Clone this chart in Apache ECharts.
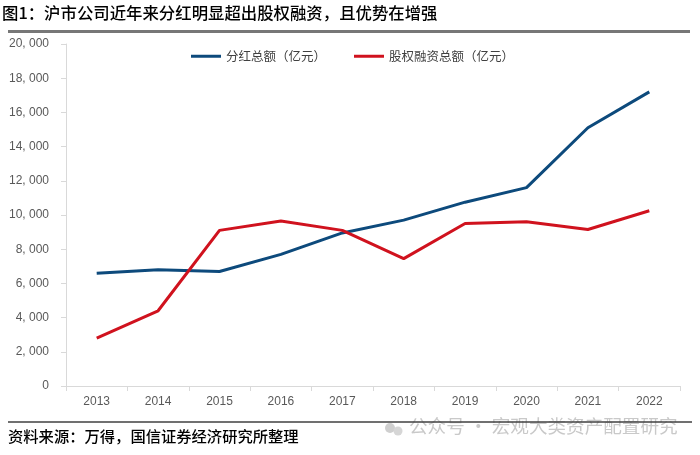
<!DOCTYPE html>
<html><head><meta charset="utf-8">
<script src="https://cdn.jsdelivr.net/npm/echarts@6/dist/echarts.min.js"></script>
<style>html,body{margin:0;padding:0;background:#fff}#c{width:700px;height:455px}</style>
</head><body><div id="c"></div>
<script>
var years = ['2013','2014','2015','2016','2017','2018','2019','2020','2021','2022'];
var dividend = [6600, 6800, 6700, 7700, 8950, 9700, 10750, 11600, 15100, 17200];
var equityFin = [2800, 4400, 9100, 9650, 9100, 7450, 9500, 9600, 9150, 10250];
var seriesNames = ['分红总额（亿元）', '股权融资总额（亿元）'];
var titleText = '图1：沪市公司近年来分红明显超出股权融资，且优势在增强';
var sourceText = '资料来源：万得，国信证券经济研究所整理';
var watermarkText = '公众号 · 宏观大类资产配置研究';

var font = '"Noto Sans CJK SC", "Liberation Sans", sans-serif';
var chart = echarts.init(document.getElementById('c'), null, {renderer: 'canvas'});
chart.setOption({
  animation: false,
  textStyle: {fontFamily: font},
  grid: {left: 66, right: 20, top: 44, bottom: 69},
  legend: {
    left: 186, top: 45, itemWidth: 30, itemHeight: 3, itemGap: 28,
    icon: 'rect',
    textStyle: {fontSize: 12.5, color: '#404040', fontFamily: font},
    data: seriesNames
  },
  xAxis: {
    type: 'category', data: years, boundaryGap: true,
    axisLine: {lineStyle: {color: '#d9d9d9'}},
    axisTick: {show: true, length: 5, lineStyle: {color: '#d9d9d9'}},
    axisLabel: {fontSize: 12, color: '#595959', margin: 10, fontFamily: '"Liberation Sans", sans-serif'}
  },
  yAxis: {
    type: 'value', min: 0, max: 20000, interval: 2000,
    axisLine: {show: true, lineStyle: {color: '#d9d9d9'}},
    axisTick: {show: true, length: 5, lineStyle: {color: '#d9d9d9'}},
    splitLine: {show: false},
    axisLabel: {fontSize: 12, color: '#595959', margin: 17, fontFamily: '"Liberation Sans", sans-serif',
      formatter: function (v) {
        if (v < 1000) return String(v);
        var s = String(v);
        return s.slice(0, s.length - 3) + ', ' + s.slice(s.length - 3);
      }}
  },
  series: [
    {name: seriesNames[0], type: 'line', data: dividend, symbol: 'none',
      lineStyle: {color: '#0d4a7c', width: 3}, itemStyle: {color: '#0d4a7c'}},
    {name: seriesNames[1], type: 'line', data: equityFin, symbol: 'none',
      lineStyle: {color: '#d0121e', width: 3}, itemStyle: {color: '#d0121e'}}
  ],
  graphic: [
    {type: 'text', left: 2, top: 5, style: {text: titleText, font: '500 16.4px ' + font, fill: '#000'}},
    {type: 'line', shape: {x1: 8, y1: 31.5, x2: 690, y2: 31.5}, style: {stroke: '#777', lineWidth: 3}},
    {type: 'circle', shape: {cx: 390, cy: 428, r: 5}, style: {fill: '#cfcfcf'}},
    {type: 'circle', shape: {cx: 398, cy: 431, r: 4.5}, style: {fill: '#d6d6d6'}},
    {type: 'text', left: 409, top: 417, style: {text: watermarkText, font: '18.6px ' + font, fill: '#c9c9c9'}},
    {type: 'line', shape: {x1: 8, y1: 422, x2: 692, y2: 422}, style: {stroke: '#404040', lineWidth: 1.5}},
    {type: 'text', left: 8, top: 429, style: {text: sourceText, font: '500 15.3px ' + font, fill: '#000'}}
  ]
});
</script>
</body></html>
